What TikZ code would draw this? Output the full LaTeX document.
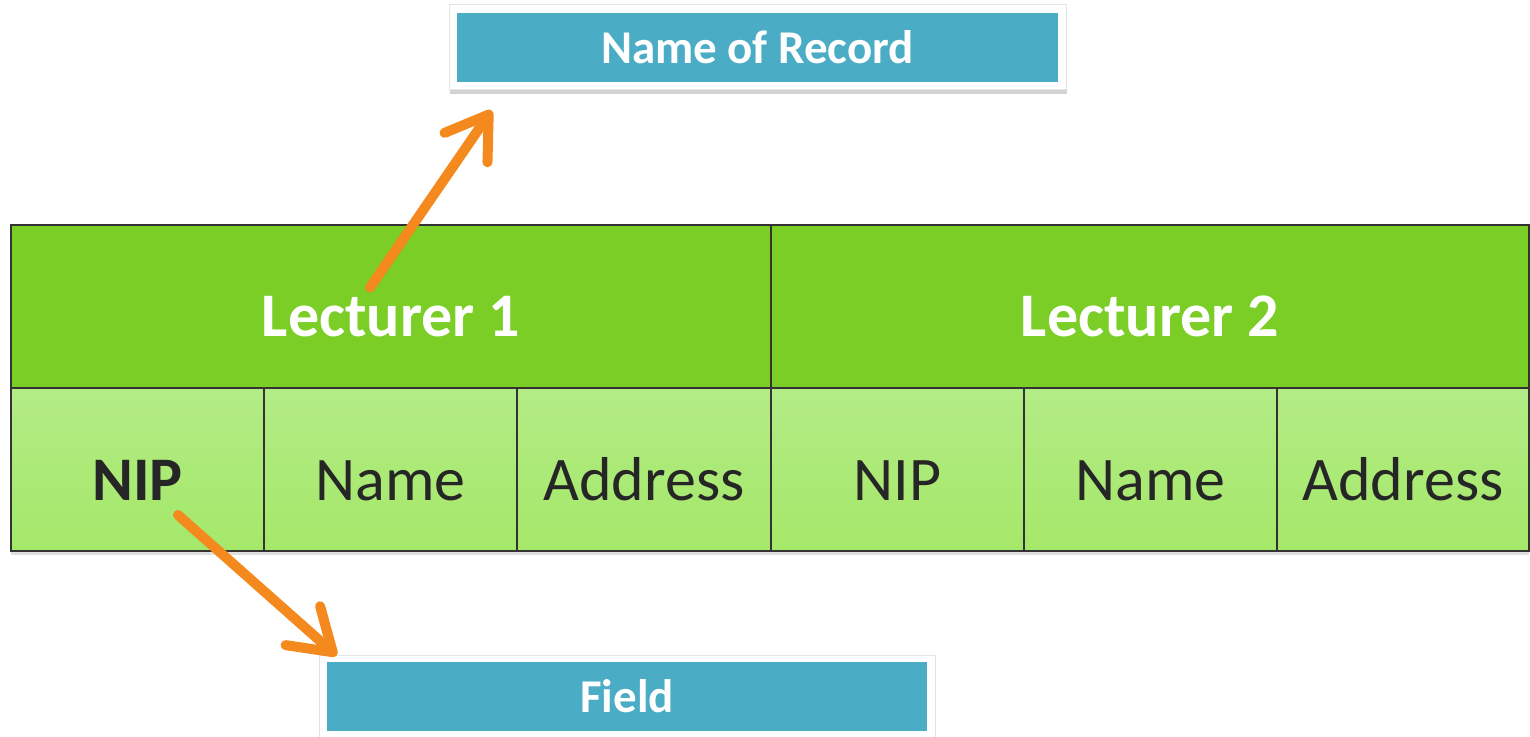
\documentclass[tikz,border=0pt]{standalone}
\usepackage{fontspec}
\setmainfont{Carlito}
\usetikzlibrary{arrows.meta,shadows,calc}
\definecolor{hdrgreen}{HTML}{7ACE26}
\definecolor{celltop}{HTML}{B3EC86}
\definecolor{cellbot}{HTML}{A4E869}
\definecolor{labelblue}{HTML}{4BACC6}
\definecolor{arroworange}{HTML}{F4891E}
\definecolor{ink}{HTML}{262626}
\definecolor{gridline}{HTML}{333333}
\begin{document}
\begin{tikzpicture}[x=0.5pt,y=-0.5pt,
  header/.style={draw=gridline, line width=1pt, fill=hdrgreen, minimum height=81.5pt,
    inner sep=0pt, text height=36pt, text depth=5.5pt, text=white,
    font=\fontsize{31}{37}\selectfont\bfseries},
  cell/.style={draw=gridline, line width=1pt, top color=celltop, bottom color=cellbot,
    minimum height=81.5pt, inner sep=0pt, text height=36pt, text depth=5.5pt, text=ink,
    font=\fontsize{31}{37}\selectfont,
    drop shadow={opacity=0.25, shadow xshift=0pt, shadow yshift=-2pt}},
  frame/.style={fill=white, draw=black!10, line width=0.5pt, inner sep=0pt,
    drop shadow={opacity=0.35, shadow xshift=0.6pt, shadow yshift=-1.8pt}},
  tag/.style={fill=labelblue, text=white, inner sep=0pt, minimum height=34.5pt,
    text height=19pt, text depth=3pt, font=\fontsize{23.5}{28}\selectfont\bfseries},
  pointer/.style={draw=arroworange, line width=5pt, line cap=round,
    -{Straight Barb[length=20pt, width=26pt, round]}}
]
\useasboundingbox (0,0) rectangle (1530,737);

% record fields: second row
\node[cell, minimum width=126.5pt] (nip1)  at (137.5,469.5) {\bfseries NIP};
\node[cell, minimum width=126.5pt] (name1) at (390.5,469.5) {Name};
\node[cell, minimum width=127pt]   (addr1) at (644,469.5)   {Address};
\node[cell, minimum width=126.5pt] (nip2)  at (897.5,469.5) {NIP};
\node[cell, minimum width=126.5pt] (name2) at (1150.5,469.5) {Name};
\node[cell, minimum width=126pt]   (addr2) at (1403,469.5)  {Address};

% record headers: first row
\node[header, minimum width=380pt] (lec1) at (391,306.5)  {Lecturer 1};
\node[header, minimum width=379pt] (lec2) at (1150,306.5) {Lecturer 2};

% caption boxes
\node[frame, minimum width=308.5pt, minimum height=42.5pt] (recframe) at (757.5,47.5) {};
\node[tag, minimum width=300.5pt] (rectag) at (recframe.center) {Name of Record};
\node[frame, minimum width=308pt, minimum height=42pt] (fieldframe) at (627,697) {};
\node[tag, minimum width=300pt] (fieldtag) at (627,696.5) {Field};

% pointers
\coordinate (a1s) at ($(lec1.center)+(-21,-19)$);
\coordinate (a1e) at ($(recframe.south west)+(43,20)$);
\coordinate (a2s) at ($(nip1.center)+(40.5,45.5)$);
\coordinate (a2e) at ($(fieldframe.north west)+(18,1)$);
\draw[pointer] (a1s) -- (a1e);
\draw[pointer] (a2s) -- (a2e);
\end{tikzpicture}
\end{document}
